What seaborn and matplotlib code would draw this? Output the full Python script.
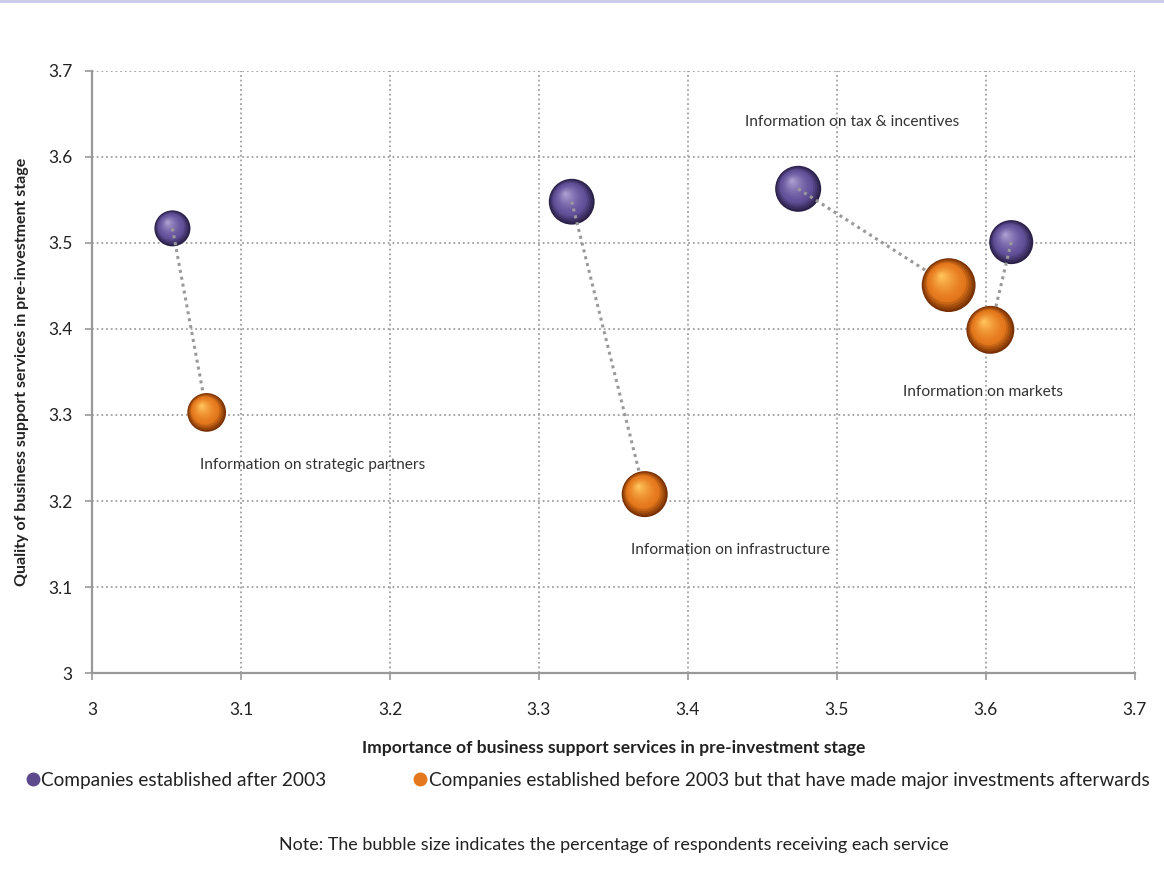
import numpy as np
import pandas as pd
import matplotlib
matplotlib.use("Agg")
import matplotlib.pyplot as plt
import matplotlib.transforms as mtransforms
from matplotlib.colors import to_rgb
from matplotlib.lines import Line2D
import seaborn as sns

# ---------------- data ----------------
services = ["Information on strategic partners", "Information on infrastructure",
            "Information on tax & incentives", "Information on markets"]
after_x = [3.054, 3.322, 3.474, 3.617]
after_y = [3.517, 3.548, 3.563, 3.501]
after_pct = [13.0, 21.0, 21.2, 19.4]
before_x = [3.077, 3.371, 3.575, 3.603]
before_y = [3.303, 3.208, 3.451, 3.399]
before_pct = [15.0, 21.2, 29.0, 23.0]
group_names = ["Companies established after 2003",
               "Companies established before 2003 but that have made major investments afterwards"]
x_ticks = [3.0, 3.1, 3.2, 3.3, 3.4, 3.5, 3.6, 3.7]
y_ticks = [3.0, 3.1, 3.2, 3.3, 3.4, 3.5, 3.6, 3.7]
tick_labels = ["3", "3.1", "3.2", "3.3", "3.4", "3.5", "3.6", "3.7"]

# ---------------- style ----------------
sns.set_theme(style="white")
plt.rcParams['font.family'] = ['Lato', 'DejaVu Sans']

df = pd.DataFrame({
    "service": services * 2,
    "x": after_x + before_x,
    "y": after_y + before_y,
    "pct": after_pct + before_pct,
    "group": [group_names[0]] * 4 + [group_names[1]] * 4,
})

PURPLE = "#5d4a8c"
ORANGE = "#e5781c"
shade = {
    group_names[0]: ("#2b2048", "#62519a", "#ab9dd0"),
    group_names[1]: ("#7a3205", "#e5781c", "#ffc25a"),
}
zord = {group_names[0]: 2, group_names[1]: 5}

fig = plt.figure(figsize=(11.64, 8.72), dpi=100)
ax = fig.add_axes([0.079, 0.2282, 0.896, 0.6904])

pmin, pmax = min(df.pct), max(df.pct)
k_area = 51.8
size_range = (pmin * k_area, pmax * k_area)

for g, col in zip(group_names, [PURPLE, ORANGE]):
    sub = df[df.group == g]
    sns.scatterplot(data=sub, x="x", y="y", size="pct", sizes=size_range,
                    size_norm=(pmin, pmax), color=shade[g][0], edgecolor="none",
                    legend=False, ax=ax, zorder=zord[g])
    # spherical shading layers
    dark, mid, light = [np.array(to_rgb(c)) for c in shade[g]]
    N = 14
    for _, r in sub.iterrows():
        s = r.pct * k_area
        rad = np.sqrt(s) / 2.0
        for k in range(1, N + 1):
            t = k / N
            frac = 1 - 0.93 * t
            if t < 0.3:
                c = dark + (mid - dark) * (t / 0.3)
            else:
                c = mid + (light - mid) * ((t - 0.3) / 0.7) ** 1.4
            dx = -0.28 * rad * (1 - frac)
            dy = 0.36 * rad * (1 - frac)
            tr = ax.transData + mtransforms.ScaledTranslation(dx / 72, dy / 72, fig.dpi_scale_trans)
            ax.scatter([r.x], [r.y], s=s * frac ** 2, color=c, edgecolors="none",
                       transform=tr, zorder=zord[g] + 0.01 * k)

# connecting dotted lines
for i in range(len(services)):
    ax.plot([after_x[i], before_x[i]], [after_y[i], before_y[i]],
            color="#9a9a9a", lw=2.2, linestyle=(0, (1, 1.3)), zorder=4)

# labels
offsets = [(-5, -38, "before"), (-10, -40, "before"), (-38, 48, "after"), (-63, -45, "before")]
for i, (ox, oy, which) in enumerate(offsets):
    px, py = (before_x[i], before_y[i]) if which == "before" else (after_x[i], after_y[i])
    ax.annotate(services[i], xy=(px, py), xytext=(ox, oy), textcoords="offset points",
                ha="left", va="center", fontsize=11.2, color="#333333", zorder=10)

ax.set_xlim(3.0, 3.7)
ax.set_ylim(3.0, 3.7)
ax.set_xticks(x_ticks)
ax.set_xticklabels(tick_labels)
ax.set_yticks(y_ticks)
ax.set_yticklabels(tick_labels)
ax.grid(True, color="#a0a0a0", linestyle=(0, (1, 1.6)), linewidth=1.3)
ax.set_axisbelow(True)
for sp in ["top", "right"]:
    ax.spines[sp].set_visible(False)
for sp in ["left", "bottom"]:
    ax.spines[sp].set_color("#999999")
    ax.spines[sp].set_linewidth(1.6)
ax.tick_params(axis="x", which="both", direction="out", length=5, width=1.2,
               color="#999999", pad=16, labelsize=12.5, labelcolor="#222222", bottom=True)
ax.tick_params(axis="y", which="both", direction="out", length=5, width=1.2,
               color="#999999", pad=9, labelsize=12.5, labelcolor="#222222", left=True)
for t in ax.get_xticklabels() + ax.get_yticklabels():
    t.set_clip_on(False)

ax.set_xlabel("Importance of business support services in pre-investment stage",
              fontsize=12.6, fontweight="bold", color="#222222", labelpad=16)
ax.set_ylabel("Quality of business support services in pre-investment stage",
              fontsize=11.5, fontweight="bold", color="#222222", labelpad=14)

handles = [Line2D([0], [0], marker="o", linestyle="none", markersize=9,
                  markerfacecolor=c, markeredgecolor=c) for c in [PURPLE, ORANGE]]
fig.legend(handles, group_names, loc="center", bbox_to_anchor=(0.505, 1 - 780 / 872),
           ncol=2, frameon=False, fontsize=13.7, handletextpad=0.1,
           columnspacing=4.6, handlelength=0.7, labelcolor="#222222")

fig.text(0.527, 1 - 845 / 872,
         "Note: The bubble size indicates the percentage of respondents receiving each service",
         ha="center", va="center", fontsize=12.9, color="#222222")

fig.add_artist(Line2D([0, 1], [0.9985, 0.9985], transform=fig.transFigure,
                      color="#c9c9e8", lw=2))

fig.savefig("out.png", dpi=100, facecolor="white")
